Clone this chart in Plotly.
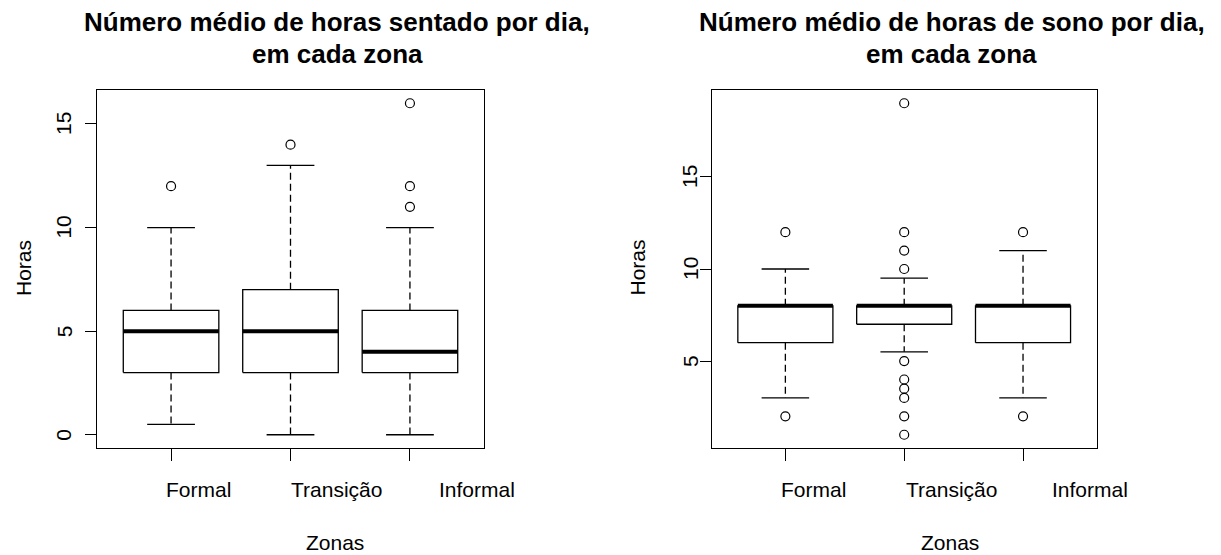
import plotly.graph_objects as go

# ---- data -------------------------------------------------------------
zonas = ["Formal", "Transição", "Informal"]

# Horas sentado por dia (five-number summaries + outliers)
sent_low = [0.5, 0, 0]
sent_q1 = [3, 3, 3]
sent_med = [5, 5, 4]
sent_q3 = [6, 7, 6]
sent_high = [10, 13, 10]
sent_out = [[12], [14], [11, 12, 16]]
sent_ticks = [0, 5, 10, 15]

# Horas de sono por dia
sono_low = [3, 5.5, 3]
sono_q1 = [6, 7, 6]
sono_med = [8, 8, 8]
sono_q3 = [8, 8, 8]
sono_high = [10, 9.5, 11]
sono_out = [[2, 12], [1, 2, 3, 3.5, 4, 5, 10, 11, 12, 19], [2, 12]]
sono_ticks = [5, 10, 15]

titles = [
    ("Número médio de horas sentado por dia,", "em cada zona"),
    ("Número médio de horas de sono por dia,", "em cada zona"),
]

# ---- geometry / style --------------------------------------------------
W, H = 1221, 555
FONT = "Liberation Sans, Arial, sans-serif"
INK = "#000000"
HALF_BOX = 0.4      # boxwex 0.8
HALF_CAP = 0.2      # staples half as wide as the box
LW = 1.3


def px_x(p):
    return p / W


def px_y(p):
    return 1 - p / H


panels = [
    dict(low=sent_low, q1=sent_q1, med=sent_med, q3=sent_q3, high=sent_high,
         out=sent_out, ticks=sent_ticks, dom=(97, 484), xa="x", ya="y",
         tick_lab_x=64, ylab_x=23, title_x=337, lab_shift=[27, 46, 67]),
    dict(low=sono_low, q1=sono_q1, med=sono_med, q3=sono_q3, high=sono_high,
         out=sono_out, ticks=sono_ticks, dom=(711.7, 1096.7), xa="x2", ya="y2",
         tick_lab_x=690, ylab_x=636.5, title_x=951.5, lab_shift=[28, 47, 67]),
]

fig = go.Figure()
annotations = []
layout_axes = {}

for k, p in enumerate(panels):
    pos = list(range(1, len(zonas) + 1))

    # box outlines
    bx, by = [], []
    for i, c in enumerate(pos):
        bx += [c - HALF_BOX, c + HALF_BOX, c + HALF_BOX, c - HALF_BOX, c - HALF_BOX, None]
        by += [p["q1"][i], p["q1"][i], p["q3"][i], p["q3"][i], p["q1"][i], None]
    fig.add_trace(go.Scatter(x=bx, y=by, mode="lines", xaxis=p["xa"], yaxis=p["ya"],
                             line=dict(color=INK, width=LW), hoverinfo="skip"))

    # dashed whiskers
    wx, wy = [], []
    for i, c in enumerate(pos):
        wx += [c, c, None, c, c, None]
        wy += [p["q3"][i], p["high"][i], None, p["q1"][i], p["low"][i], None]
    fig.add_trace(go.Scatter(x=wx, y=wy, mode="lines", xaxis=p["xa"], yaxis=p["ya"],
                             line=dict(color=INK, width=LW, dash="7px,4px"),
                             hoverinfo="skip"))

    # staples
    sx, sy = [], []
    for i, c in enumerate(pos):
        sx += [c - HALF_CAP, c + HALF_CAP, None, c - HALF_CAP, c + HALF_CAP, None]
        sy += [p["high"][i], p["high"][i], None, p["low"][i], p["low"][i], None]
    fig.add_trace(go.Scatter(x=sx, y=sy, mode="lines", xaxis=p["xa"], yaxis=p["ya"],
                             line=dict(color=INK, width=LW), hoverinfo="skip"))

    # medians (thick)
    mx, my = [], []
    for i, c in enumerate(pos):
        mx += [c - HALF_BOX, c + HALF_BOX, None]
        my += [p["med"][i], p["med"][i], None]
    fig.add_trace(go.Scatter(x=mx, y=my, mode="lines", xaxis=p["xa"], yaxis=p["ya"],
                             line=dict(color=INK, width=4), hoverinfo="skip"))

    # outliers
    ox, oy = [], []
    for i, c in enumerate(pos):
        ox += [c] * len(p["out"][i])
        oy += p["out"][i]
    fig.add_trace(go.Scatter(x=ox, y=oy, mode="markers", xaxis=p["xa"], yaxis=p["ya"],
                             marker=dict(symbol="circle-open", size=9, color=INK,
                                         line=dict(width=1.2, color=INK))))

    # axis ranges with 4% padding on both sides
    allv = p["low"] + p["high"] + [v for o in p["out"] for v in o]
    lo, hi = min(allv), max(allv)
    pad = 0.04 * (hi - lo)
    xpad = 0.04 * (len(zonas))
    xkey = "xaxis" if k == 0 else "xaxis2"
    ykey = "yaxis" if k == 0 else "yaxis2"
    layout_axes[xkey] = dict(
        domain=[px_x(p["dom"][0]), px_x(p["dom"][1])],
        range=[0.5 - xpad, len(zonas) + 0.5 + xpad],
        anchor=p["ya"], tickmode="array", tickvals=pos, showticklabels=False,
        ticks="outside", ticklen=12, tickwidth=LW, tickcolor=INK,
        showline=True, linecolor=INK, linewidth=LW, mirror=True,
        showgrid=False, zeroline=False, fixedrange=True,
    )
    layout_axes[ykey] = dict(
        domain=[px_y(448), px_y(90)],
        range=[lo - pad, hi + pad],
        anchor=p["xa"], tickmode="array", tickvals=p["ticks"], showticklabels=False,
        ticks="outside", ticklen=11, tickwidth=LW, tickcolor=INK,
        showline=True, linecolor=INK, linewidth=LW, mirror=True,
        showgrid=False, zeroline=False, fixedrange=True,
    )

    # y tick labels (rotated, parallel to the axis)
    for t in p["ticks"]:
        annotations.append(dict(text=str(t), x=px_x(p["tick_lab_x"]), xref="paper",
                                y=t, yref=p["ya"], textangle=-90, showarrow=False,
                                xanchor="center", yanchor="middle",
                                font=dict(family=FONT, size=21, color=INK)))

    # x tick labels
    for i, c in enumerate(pos):
        annotations.append(dict(text=zonas[i], x=c, xref=p["xa"], xshift=p["lab_shift"][i],
                                y=px_y(489), yref="paper", showarrow=False,
                                xanchor="center", yanchor="middle",
                                font=dict(family=FONT, size=21, color=INK)))

    # axis titles
    annotations.append(dict(text="Zonas", x=px_x(p["title_x"] - 2), xref="paper",
                            y=px_y(542), yref="paper", showarrow=False,
                            xanchor="center", yanchor="middle",
                            font=dict(family=FONT, size=21, color=INK)))
    annotations.append(dict(text="Horas", x=px_x(p["ylab_x"]), xref="paper",
                            y=px_y(268), yref="paper", textangle=-90, showarrow=False,
                            xanchor="center", yanchor="middle",
                            font=dict(family=FONT, size=21, color=INK)))

    # main title (two lines)
    for line, ty in zip(titles[k], (22, 54)):
        annotations.append(dict(text="<b>" + line + "</b>", x=px_x(p["title_x"]), xref="paper",
                                y=px_y(ty), yref="paper", showarrow=False,
                                xanchor="center", yanchor="middle",
                                font=dict(family=FONT, size=26, color=INK)))

fig.update_layout(
    width=W, height=H,
    margin=dict(l=0, r=0, t=0, b=0),
    paper_bgcolor="white", plot_bgcolor="white",
    showlegend=False,
    annotations=annotations,
    **layout_axes,
)

fig.write_html("out.html", config={"displayModeBar": False})
